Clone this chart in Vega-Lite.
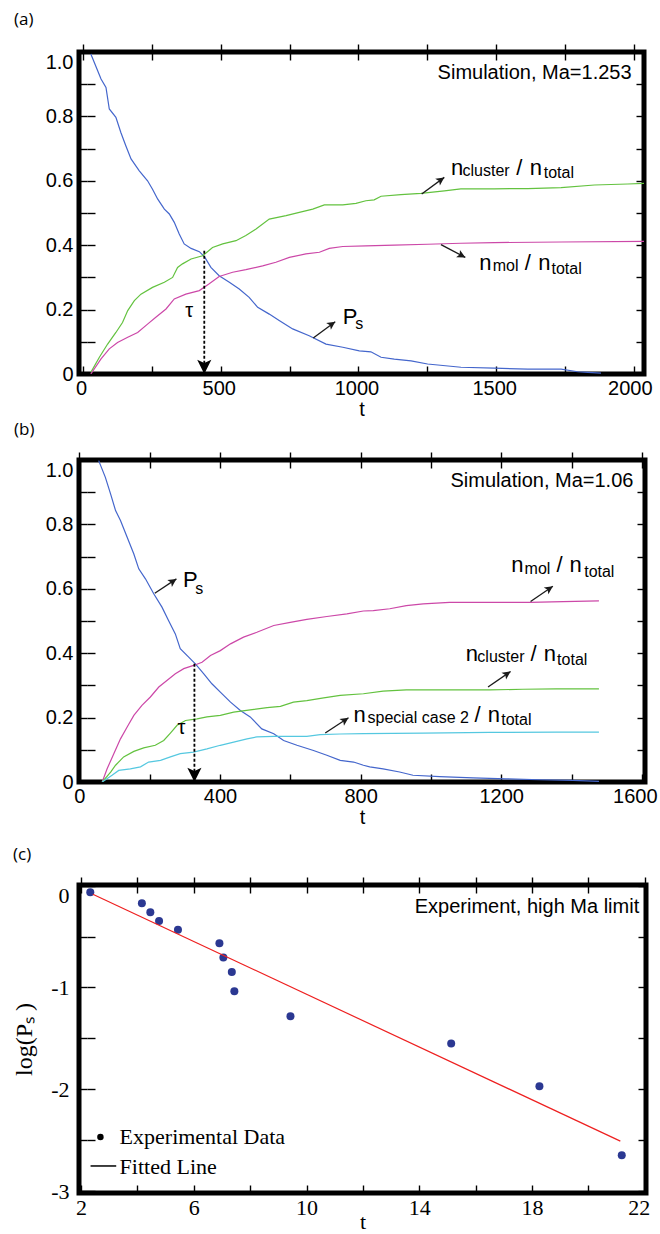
{
"$schema": "https://vega.github.io/schema/vega-lite/v6.json",
"background": "white",
"padding": {"left": 10, "top": 8, "right": 0, "bottom": 0},
"spacing": 2,
"config": {
  "view": {"stroke": "black", "strokeWidth": 5},
  "axis": {"domain": false, "grid": true, "gridColor": "black", "gridWidth": 1.4, "gridDash": [8, 3000], "gridOpacity": 1, "ticks": true, "tickColor": "black", "tickWidth": 1.4, "tickSize": 8, "offset": -8, "labelColor": "black", "titleColor": "black", "labelOverlap": false, "labelFlush": false, "titleFontWeight": "normal", "zindex": 1},
  "title": {"anchor": "start", "frame": "group", "fontWeight": "normal", "color": "black", "font": "Open Sans", "fontSize": 17}
},
"datasets": {
  "a_lines": [
    {"s":"Ps","t":28,"v":0.994},{"s":"Ps","t":65,"v":0.916},{"s":"Ps","t":83,"v":0.89},{"s":"Ps","t":95,"v":0.823},{"s":"Ps","t":119,"v":0.797},{"s":"Ps","t":137,"v":0.75},{"s":"Ps","t":155,"v":0.709},{"s":"Ps","t":174,"v":0.668},{"s":"Ps","t":204,"v":0.631},{"s":"Ps","t":234,"v":0.6},{"s":"Ps","t":252,"v":0.574},{"s":"Ps","t":271,"v":0.543},{"s":"Ps","t":295,"v":0.512},{"s":"Ps","t":313,"v":0.497},{"s":"Ps","t":331,"v":0.471},{"s":"Ps","t":349,"v":0.435},{"s":"Ps","t":367,"v":0.404},{"s":"Ps","t":392,"v":0.39},{"s":"Ps","t":422,"v":0.38},{"s":"Ps","t":440,"v":0.365},{"s":"Ps","t":464,"v":0.331},{"s":"Ps","t":494,"v":0.305},{"s":"Ps","t":531,"v":0.285},{"s":"Ps","t":567,"v":0.264},{"s":"Ps","t":603,"v":0.238},{"s":"Ps","t":634,"v":0.207},{"s":"Ps","t":676,"v":0.186},{"s":"Ps","t":712,"v":0.166},{"s":"Ps","t":761,"v":0.14},{"s":"Ps","t":821,"v":0.119},{"s":"Ps","t":882,"v":0.093},{"s":"Ps","t":943,"v":0.083},{"s":"Ps","t":1003,"v":0.072},{"s":"Ps","t":1045,"v":0.069},{"s":"Ps","t":1082,"v":0.052},{"s":"Ps","t":1130,"v":0.046},{"s":"Ps","t":1191,"v":0.041},{"s":"Ps","t":1251,"v":0.031},{"s":"Ps","t":1372,"v":0.021},{"s":"Ps","t":1493,"v":0.018},{"s":"Ps","t":1615,"v":0.015},{"s":"Ps","t":1736,"v":0.015},{"s":"Ps","t":1796,"v":0.007},{"s":"Ps","t":1833,"v":0.005},{"s":"Ps","t":1881,"v":0.003},
    {"s":"cluster","t":28,"v":0.005},{"s":"cluster","t":59,"v":0.052},{"s":"cluster","t":89,"v":0.093},{"s":"cluster","t":119,"v":0.129},{"s":"cluster","t":143,"v":0.16},{"s":"cluster","t":162,"v":0.197},{"s":"cluster","t":186,"v":0.228},{"s":"cluster","t":210,"v":0.248},{"s":"cluster","t":252,"v":0.269},{"s":"cluster","t":295,"v":0.285},{"s":"cluster","t":325,"v":0.3},{"s":"cluster","t":343,"v":0.331},{"s":"cluster","t":361,"v":0.342},{"s":"cluster","t":392,"v":0.357},{"s":"cluster","t":434,"v":0.367},{"s":"cluster","t":470,"v":0.393},{"s":"cluster","t":507,"v":0.404},{"s":"cluster","t":555,"v":0.414},{"s":"cluster","t":591,"v":0.43},{"s":"cluster","t":628,"v":0.45},{"s":"cluster","t":676,"v":0.481},{"s":"cluster","t":737,"v":0.492},{"s":"cluster","t":785,"v":0.502},{"s":"cluster","t":834,"v":0.512},{"s":"cluster","t":876,"v":0.525},{"s":"cluster","t":943,"v":0.525},{"s":"cluster","t":991,"v":0.53},{"s":"cluster","t":1027,"v":0.538},{"s":"cluster","t":1057,"v":0.541},{"s":"cluster","t":1082,"v":0.552},{"s":"cluster","t":1154,"v":0.557},{"s":"cluster","t":1227,"v":0.561},{"s":"cluster","t":1312,"v":0.569},{"s":"cluster","t":1372,"v":0.575},{"s":"cluster","t":1493,"v":0.575},{"s":"cluster","t":1615,"v":0.576},{"s":"cluster","t":1736,"v":0.579},{"s":"cluster","t":1857,"v":0.587},{"s":"cluster","t":1978,"v":0.59},{"s":"cluster","t":2037,"v":0.592},
    {"s":"mol","t":28,"v":0.0},{"s":"mol","t":65,"v":0.047},{"s":"mol","t":95,"v":0.078},{"s":"mol","t":125,"v":0.098},{"s":"mol","t":162,"v":0.114},{"s":"mol","t":198,"v":0.129},{"s":"mol","t":234,"v":0.155},{"s":"mol","t":264,"v":0.176},{"s":"mol","t":301,"v":0.202},{"s":"mol","t":331,"v":0.233},{"s":"mol","t":373,"v":0.248},{"s":"mol","t":422,"v":0.259},{"s":"mol","t":458,"v":0.28},{"s":"mol","t":494,"v":0.303},{"s":"mol","t":543,"v":0.316},{"s":"mol","t":591,"v":0.324},{"s":"mol","t":652,"v":0.336},{"s":"mol","t":700,"v":0.347},{"s":"mol","t":749,"v":0.362},{"s":"mol","t":809,"v":0.373},{"s":"mol","t":858,"v":0.378},{"s":"mol","t":894,"v":0.39},{"s":"mol","t":943,"v":0.396},{"s":"mol","t":1027,"v":0.398},{"s":"mol","t":1130,"v":0.4},{"s":"mol","t":1251,"v":0.403},{"s":"mol","t":1372,"v":0.406},{"s":"mol","t":1493,"v":0.408},{"s":"mol","t":1736,"v":0.41},{"s":"mol","t":2037,"v":0.412}
  ],
  "a_tau": [{"t":440,"v":0.383,"v2":0}],
  "a_arrows": [{"t":1229.6,"v":0.559,"t2":1311.7,"v2":0.6106},{"t":1299.7,"v":0.4016,"t2":1388,"v2":0.3621},{"t":835.8,"v":0.1118,"t2":915.7,"v2":0.1624}],
  "a_heads_ur": [{"t":1311.7,"v":0.6106},{"t":915.7,"v":0.1624}],
  "a_heads_dr": [{"t":1388,"v":0.3621}],
  "a_big": [{"t":1336,"v":0.619,"text":"n"},{"t":1573,"v":0.619,"text":"/"},{"t":1622,"v":0.619,"text":"n"},{"t":1439,"v":0.323,"text":"n"},{"t":1604,"v":0.323,"text":"/"},{"t":1653,"v":0.323,"text":"n"},{"t":942.6,"v":0.155,"text":"P"}],
  "a_sub": [{"t":1378,"v":0.616,"text":"cluster"},{"t":1673,"v":0.61,"text":"total"},{"t":1487.4,"v":0.321,"text":"mol"},{"t":1701,"v":0.3106,"text":"total"},{"t":988.4,"v":0.14,"text":"s"}],
  "a_note": [{"t":1992,"v":0.916,"text":"Simulation, Ma=1.253"}],
  "a_taulabel": [{"t":385,"v":0.176,"text":"τ"}],
  "b_lines": [
    {"s":"Ps","t":55,"v":0.998},{"s":"Ps","t":74,"v":0.946},{"s":"Ps","t":89,"v":0.894},{"s":"Ps","t":103,"v":0.843},{"s":"Ps","t":117,"v":0.812},{"s":"Ps","t":136,"v":0.76},{"s":"Ps","t":155,"v":0.708},{"s":"Ps","t":169,"v":0.662},{"s":"Ps","t":188,"v":0.631},{"s":"Ps","t":212,"v":0.584},{"s":"Ps","t":235,"v":0.543},{"s":"Ps","t":254,"v":0.501},{"s":"Ps","t":273,"v":0.46},{"s":"Ps","t":287,"v":0.414},{"s":"Ps","t":311,"v":0.388},{"s":"Ps","t":330,"v":0.367},{"s":"Ps","t":354,"v":0.336},{"s":"Ps","t":377,"v":0.305},{"s":"Ps","t":401,"v":0.279},{"s":"Ps","t":430,"v":0.248},{"s":"Ps","t":458,"v":0.222},{"s":"Ps","t":486,"v":0.202},{"s":"Ps","t":519,"v":0.165},{"s":"Ps","t":553,"v":0.15},{"s":"Ps","t":581,"v":0.129},{"s":"Ps","t":619,"v":0.114},{"s":"Ps","t":666,"v":0.098},{"s":"Ps","t":704,"v":0.083},{"s":"Ps","t":742,"v":0.067},{"s":"Ps","t":780,"v":0.062},{"s":"Ps","t":808,"v":0.052},{"s":"Ps","t":826,"v":0.047},{"s":"Ps","t":864,"v":0.041},{"s":"Ps","t":911,"v":0.031},{"s":"Ps","t":949,"v":0.021},{"s":"Ps","t":1025,"v":0.017},{"s":"Ps","t":1120,"v":0.013},{"s":"Ps","t":1214,"v":0.01},{"s":"Ps","t":1309,"v":0.007},{"s":"Ps","t":1404,"v":0.005},{"s":"Ps","t":1478,"v":0.002},
    {"s":"mol","t":65,"v":0.0},{"s":"mol","t":79,"v":0.041},{"s":"mol","t":98,"v":0.088},{"s":"mol","t":117,"v":0.134},{"s":"mol","t":136,"v":0.171},{"s":"mol","t":155,"v":0.207},{"s":"mol","t":178,"v":0.238},{"s":"mol","t":202,"v":0.264},{"s":"mol","t":226,"v":0.295},{"s":"mol","t":249,"v":0.315},{"s":"mol","t":273,"v":0.336},{"s":"mol","t":297,"v":0.352},{"s":"mol","t":325,"v":0.362},{"s":"mol","t":349,"v":0.372},{"s":"mol","t":373,"v":0.393},{"s":"mol","t":401,"v":0.408},{"s":"mol","t":430,"v":0.429},{"s":"mol","t":467,"v":0.45},{"s":"mol","t":505,"v":0.465},{"s":"mol","t":553,"v":0.486},{"s":"mol","t":600,"v":0.496},{"s":"mol","t":647,"v":0.505},{"s":"mol","t":704,"v":0.514},{"s":"mol","t":761,"v":0.522},{"s":"mol","t":808,"v":0.531},{"s":"mol","t":836,"v":0.532},{"s":"mol","t":883,"v":0.538},{"s":"mol","t":930,"v":0.548},{"s":"mol","t":978,"v":0.553},{"s":"mol","t":1053,"v":0.558},{"s":"mol","t":1167,"v":0.558},{"s":"mol","t":1281,"v":0.558},{"s":"mol","t":1376,"v":0.56},{"s":"mol","t":1478,"v":0.5625},
    {"s":"cluster","t":65,"v":0.0},{"s":"cluster","t":89,"v":0.031},{"s":"cluster","t":103,"v":0.052},{"s":"cluster","t":126,"v":0.078},{"s":"cluster","t":155,"v":0.095},{"s":"cluster","t":183,"v":0.106},{"s":"cluster","t":216,"v":0.114},{"s":"cluster","t":240,"v":0.129},{"s":"cluster","t":259,"v":0.152},{"s":"cluster","t":278,"v":0.176},{"s":"cluster","t":302,"v":0.191},{"s":"cluster","t":335,"v":0.196},{"s":"cluster","t":363,"v":0.202},{"s":"cluster","t":401,"v":0.207},{"s":"cluster","t":439,"v":0.217},{"s":"cluster","t":486,"v":0.224},{"s":"cluster","t":534,"v":0.231},{"s":"cluster","t":572,"v":0.235},{"s":"cluster","t":609,"v":0.248},{"s":"cluster","t":647,"v":0.253},{"s":"cluster","t":695,"v":0.261},{"s":"cluster","t":742,"v":0.269},{"s":"cluster","t":808,"v":0.274},{"s":"cluster","t":864,"v":0.282},{"s":"cluster","t":930,"v":0.286},{"s":"cluster","t":1072,"v":0.286},{"s":"cluster","t":1167,"v":0.286},{"s":"cluster","t":1262,"v":0.288},{"s":"cluster","t":1357,"v":0.289},{"s":"cluster","t":1478,"v":0.2895},
    {"s":"special","t":65,"v":0.0},{"s":"special","t":93,"v":0.021},{"s":"special","t":112,"v":0.036},{"s":"special","t":145,"v":0.041},{"s":"special","t":174,"v":0.047},{"s":"special","t":197,"v":0.062},{"s":"special","t":231,"v":0.067},{"s":"special","t":259,"v":0.078},{"s":"special","t":287,"v":0.088},{"s":"special","t":325,"v":0.093},{"s":"special","t":363,"v":0.103},{"s":"special","t":401,"v":0.114},{"s":"special","t":439,"v":0.124},{"s":"special","t":477,"v":0.134},{"s":"special","t":505,"v":0.14},{"s":"special","t":553,"v":0.142},{"s":"special","t":647,"v":0.142},{"s":"special","t":685,"v":0.147},{"s":"special","t":742,"v":0.149},{"s":"special","t":808,"v":0.15},{"s":"special","t":978,"v":0.152},{"s":"special","t":1167,"v":0.154},{"s":"special","t":1357,"v":0.155},{"s":"special","t":1478,"v":0.155}
  ],
  "b_tau": [{"t":327.3,"v":0.367,"v2":0}],
  "b_arrows": [{"t":214.5,"v":0.5864,"t2":276.1,"v2":0.6308},{"t":1283.5,"v":0.5604,"t2":1347,"v2":0.6081},{"t":1162.5,"v":0.2948,"t2":1226.7,"v2":0.3432},{"t":699.4,"v":0.152,"t2":765.6,"v2":0.1995}],
  "b_heads_ur": [{"t":276.1,"v":0.6308},{"t":1347,"v":0.6081},{"t":1226.7,"v":0.3432},{"t":765.6,"v":0.1995}],
  "b_big": [{"t":1228.7,"v":0.6516,"text":"n"},{"t":1357,"v":0.6516,"text":"/"},{"t":1394,"v":0.6516,"text":"n"},{"t":1098.9,"v":0.3773,"text":"n"},{"t":1283,"v":0.3773,"text":"/"},{"t":1321,"v":0.3773,"text":"n"},{"t":779.8,"v":0.186,"text":"n"},{"t":1124,"v":0.186,"text":"/"},{"t":1162,"v":0.186,"text":"n"},{"t":294.9,"v":0.605,"text":"P"}],
  "b_sub": [{"t":1266.5,"v":0.646,"text":"mol"},{"t":1436,"v":0.636,"text":"total"},{"t":1132.1,"v":0.3723,"text":"cluster"},{"t":1359,"v":0.364,"text":"total"},{"t":819.6,"v":0.183,"text":"special case 2"},{"t":1200,"v":0.1756,"text":"total"},{"t":330,"v":0.584,"text":"s"}],
  "b_note": [{"t":1576,"v":0.915,"text":"Simulation, Ma=1.06"}],
  "b_taulabel": [{"t":290.3,"v":0.15,"text":"τ"}],
  "c_points": [{"x":2.33,"y":-0.066},{"x":4.16,"y":-0.174},{"x":4.46,"y":-0.262},{"x":4.77,"y":-0.347},{"x":5.44,"y":-0.435},{"x":6.91,"y":-0.565},{"x":7.05,"y":-0.705},{"x":7.35,"y":-0.849},{"x":7.44,"y":-1.038},{"x":9.43,"y":-1.283},{"x":15.13,"y":-1.55},{"x":18.26,"y":-1.968},{"x":21.18,"y":-2.646}],
  "c_fit": [{"x":2.42,"y":-0.086},{"x":21.13,"y":-2.506}],
  "c_leg_pt": [{"x":2.69,"y":-2.467}],
  "c_leg_line": [{"x":2.34,"y":-2.75},{"x":3.25,"y":-2.75}],
  "c_leg_text": [{"x":3.37,"y":-2.538,"text":"Experimental Data"},{"x":3.37,"y":-2.832,"text":"Fitted Line"}],
  "c_note": [{"x":21.8,"y":-0.272,"text":"Experiment, high Ma limit"}]
},
"vconcat": [
{
"spacing": -4,
"vconcat": [
{
  "title": {"text": "(a)", "dx": -65, "offset": 22},
  "width": 565, "height": 322,
  "resolve": {"axis": {"x": "independent", "y": "independent"}},
  "layer": [
    {"data": {"name": "a_lines"}, "mark": {"type": "line", "strokeWidth": 1.2, "clip": true},
     "encoding": {
       "x": {"field": "t", "type": "quantitative", "scale": {"domain": [-15, 2037]},
             "axis": {"orient": "bottom", "values": [0,250,500,750,1000,1250,1500,1750,2000], "labelExpr": "datum.value % 500 === 0 ? '' + datum.value : ''", "labelOffset": {"condition": {"test": "datum.value >= 2000", "value": -4}, "value": -2}, "labelFont": "Liberation Sans", "labelFontSize": 20, "labelPadding": 4, "title": "t", "titleFont": "Liberation Sans", "titleFontSize": 20, "titlePadding": 1}},
       "y": {"field": "v", "type": "quantitative", "scale": {"domain": [0, 1]},
             "axis": {"orient": "left", "values": [0,0.1,0.2,0.3,0.4,0.5,0.6,0.7,0.8,0.9,1], "labelExpr": "round(datum.value*10) % 2 === 0 ? (datum.value === 0 ? '0' : format(datum.value, '.1f')) : ''", "labelBaseline": {"condition": {"test": "datum.value >= 0.99", "value": "top"}, "value": "middle"}, "labelFont": "Liberation Sans", "labelFontSize": 20, "labelPadding": 6, "title": null}},
       "color": {"field": "s", "type": "nominal", "scale": {"domain": ["Ps","cluster","mol","special"], "range": ["#4466cc","#63c23f","#cc48a8","#55c8e0"]}, "legend": null}
     }},
    {"data": {"name": "a_tau"}, "mark": {"type": "rule", "strokeDash": [3,2], "strokeWidth": 1.8, "color": "black"},
     "encoding": {
       "x": {"field": "t", "type": "quantitative", "scale": {"domain": [-15, 2037]}, "axis": {"orient": "top", "values": [0,250,500,750,1000,1250,1500,1750,2000], "labels": false, "title": null}},
       "y": {"field": "v", "type": "quantitative", "scale": {"domain": [0, 1]}, "axis": {"orient": "right", "values": [0,0.1,0.2,0.3,0.4,0.5,0.6,0.7,0.8,0.9,1], "labels": false, "title": null}},
       "y2": {"field": "v2"}
     }},
    {"data": {"name": "a_arrows"}, "mark": {"type": "rule", "strokeWidth": 1.3, "color": "#1a1a1a"},
     "encoding": {
       "x": {"field": "t", "type": "quantitative", "scale": {"domain": [-15, 2037]}, "axis": null},
       "y": {"field": "v", "type": "quantitative", "scale": {"domain": [0, 1]}, "axis": null},
       "x2": {"field": "t2"}, "y2": {"field": "v2"}
     }},
    {"data": {"name": "a_heads_ur"}, "mark": {"type": "point", "shape": "M0,0L-1.1,2.2L0,1.7L1.1,2.2Z", "filled": true, "color": "#1a1a1a", "opacity": 1, "size": 56, "angle": 55},
     "encoding": {
       "x": {"field": "t", "type": "quantitative", "scale": {"domain": [-15, 2037]}, "axis": null},
       "y": {"field": "v", "type": "quantitative", "scale": {"domain": [0, 1]}, "axis": null}
     }},
    {"data": {"name": "a_heads_dr"}, "mark": {"type": "point", "shape": "M0,0L-1.1,2.2L0,1.7L1.1,2.2Z", "filled": true, "color": "#1a1a1a", "opacity": 1, "size": 56, "angle": 118},
     "encoding": {
       "x": {"field": "t", "type": "quantitative", "scale": {"domain": [-15, 2037]}, "axis": null},
       "y": {"field": "v", "type": "quantitative", "scale": {"domain": [0, 1]}, "axis": null}
     }},
    {"data": {"name": "a_tau"}, "mark": {"type": "point", "shape": "M0,0L-1.1,2.2L0,1.7L1.1,2.2Z", "filled": true, "color": "black", "opacity": 1, "size": 165, "angle": 180},
     "encoding": {
       "x": {"field": "t", "type": "quantitative", "scale": {"domain": [-15, 2037]}, "axis": null},
       "y": {"field": "v2", "type": "quantitative", "scale": {"domain": [0, 1]}, "axis": null}
     }},
    {"data": {"name": "a_big"}, "mark": {"type": "text", "align": "left", "baseline": "alphabetic", "font": "Liberation Sans", "fontSize": 22, "color": "black"},
     "encoding": {
       "x": {"field": "t", "type": "quantitative", "scale": {"domain": [-15, 2037]}, "axis": null},
       "y": {"field": "v", "type": "quantitative", "scale": {"domain": [0, 1]}, "axis": null},
       "text": {"field": "text"}
     }},
    {"data": {"name": "a_sub"}, "mark": {"type": "text", "align": "left", "baseline": "alphabetic", "font": "Liberation Sans", "fontSize": 16, "color": "black"},
     "encoding": {
       "x": {"field": "t", "type": "quantitative", "scale": {"domain": [-15, 2037]}, "axis": null},
       "y": {"field": "v", "type": "quantitative", "scale": {"domain": [0, 1]}, "axis": null},
       "text": {"field": "text"}
     }},
    {"data": {"name": "a_note"}, "mark": {"type": "text", "align": "right", "baseline": "alphabetic", "font": "Liberation Sans", "fontSize": 20, "color": "black"},
     "encoding": {
       "x": {"field": "t", "type": "quantitative", "scale": {"domain": [-15, 2037]}, "axis": null},
       "y": {"field": "v", "type": "quantitative", "scale": {"domain": [0, 1]}, "axis": null},
       "text": {"field": "text"}
     }},
    {"data": {"name": "a_taulabel"}, "mark": {"type": "text", "align": "center", "baseline": "alphabetic", "font": "Liberation Sans", "fontSize": 20, "color": "black"},
     "encoding": {
       "x": {"field": "t", "type": "quantitative", "scale": {"domain": [-15, 2037]}, "axis": null},
       "y": {"field": "v", "type": "quantitative", "scale": {"domain": [0, 1]}, "axis": null},
       "text": {"field": "text"}
     }}
  ]
},
{
  "title": {"text": "(b)", "dx": -65, "offset": 20},
  "width": 566, "height": 322,
  "resolve": {"axis": {"x": "independent", "y": "independent"}},
  "layer": [
    {"data": {"name": "b_lines"}, "mark": {"type": "line", "strokeWidth": 1.2, "clip": true},
     "encoding": {
       "x": {"field": "t", "type": "quantitative", "scale": {"domain": [-1, 1609]},
             "axis": {"orient": "bottom", "values": [0,200,400,600,800,1000,1200,1400,1600], "labelExpr": "datum.value % 400 === 0 ? '' + datum.value : ''", "labelOffset": {"condition": {"test": "datum.value >= 1600", "value": -7}, "value": 0}, "labelFont": "Liberation Sans", "labelFontSize": 20, "labelPadding": 4, "title": "t", "titleFont": "Liberation Sans", "titleFontSize": 20, "titlePadding": 1}},
       "y": {"field": "v", "type": "quantitative", "scale": {"domain": [0, 1]},
             "axis": {"orient": "left", "values": [0,0.1,0.2,0.3,0.4,0.5,0.6,0.7,0.8,0.9,1], "labelExpr": "round(datum.value*10) % 2 === 0 ? (datum.value === 0 ? '0' : format(datum.value, '.1f')) : ''", "labelBaseline": {"condition": {"test": "datum.value >= 0.99", "value": "top"}, "value": "middle"}, "labelFont": "Liberation Sans", "labelFontSize": 20, "labelPadding": 6, "title": null}},
       "color": {"field": "s", "type": "nominal", "scale": {"domain": ["Ps","cluster","mol","special"], "range": ["#4466cc","#63c23f","#cc48a8","#55c8e0"]}, "legend": null}
     }},
    {"data": {"name": "b_tau"}, "mark": {"type": "rule", "strokeDash": [3,2], "strokeWidth": 1.8, "color": "black"},
     "encoding": {
       "x": {"field": "t", "type": "quantitative", "scale": {"domain": [-1, 1609]}, "axis": {"orient": "top", "values": [0,200,400,600,800,1000,1200,1400,1600], "labels": false, "title": null}},
       "y": {"field": "v", "type": "quantitative", "scale": {"domain": [0, 1]}, "axis": {"orient": "right", "values": [0,0.1,0.2,0.3,0.4,0.5,0.6,0.7,0.8,0.9,1], "labels": false, "title": null}},
       "y2": {"field": "v2"}
     }},
    {"data": {"name": "b_arrows"}, "mark": {"type": "rule", "strokeWidth": 1.3, "color": "#1a1a1a"},
     "encoding": {
       "x": {"field": "t", "type": "quantitative", "scale": {"domain": [-1, 1609]}, "axis": null},
       "y": {"field": "v", "type": "quantitative", "scale": {"domain": [0, 1]}, "axis": null},
       "x2": {"field": "t2"}, "y2": {"field": "v2"}
     }},
    {"data": {"name": "b_heads_ur"}, "mark": {"type": "point", "shape": "M0,0L-1.1,2.2L0,1.7L1.1,2.2Z", "filled": true, "color": "#1a1a1a", "opacity": 1, "size": 56, "angle": 56},
     "encoding": {
       "x": {"field": "t", "type": "quantitative", "scale": {"domain": [-1, 1609]}, "axis": null},
       "y": {"field": "v", "type": "quantitative", "scale": {"domain": [0, 1]}, "axis": null}
     }},
    {"data": {"name": "b_tau"}, "mark": {"type": "point", "shape": "M0,0L-1.1,2.2L0,1.7L1.1,2.2Z", "filled": true, "color": "black", "opacity": 1, "size": 165, "angle": 180},
     "encoding": {
       "x": {"field": "t", "type": "quantitative", "scale": {"domain": [-1, 1609]}, "axis": null},
       "y": {"field": "v2", "type": "quantitative", "scale": {"domain": [0, 1]}, "axis": null}
     }},
    {"data": {"name": "b_big"}, "mark": {"type": "text", "align": "left", "baseline": "alphabetic", "font": "Liberation Sans", "fontSize": 22, "color": "black"},
     "encoding": {
       "x": {"field": "t", "type": "quantitative", "scale": {"domain": [-1, 1609]}, "axis": null},
       "y": {"field": "v", "type": "quantitative", "scale": {"domain": [0, 1]}, "axis": null},
       "text": {"field": "text"}
     }},
    {"data": {"name": "b_sub"}, "mark": {"type": "text", "align": "left", "baseline": "alphabetic", "font": "Liberation Sans", "fontSize": 16, "color": "black"},
     "encoding": {
       "x": {"field": "t", "type": "quantitative", "scale": {"domain": [-1, 1609]}, "axis": null},
       "y": {"field": "v", "type": "quantitative", "scale": {"domain": [0, 1]}, "axis": null},
       "text": {"field": "text"}
     }},
    {"data": {"name": "b_note"}, "mark": {"type": "text", "align": "right", "baseline": "alphabetic", "font": "Liberation Sans", "fontSize": 20, "color": "black"},
     "encoding": {
       "x": {"field": "t", "type": "quantitative", "scale": {"domain": [-1, 1609]}, "axis": null},
       "y": {"field": "v", "type": "quantitative", "scale": {"domain": [0, 1]}, "axis": null},
       "text": {"field": "text"}
     }},
    {"data": {"name": "b_taulabel"}, "mark": {"type": "text", "align": "center", "baseline": "alphabetic", "font": "Liberation Sans", "fontSize": 20, "color": "black"},
     "encoding": {
       "x": {"field": "t", "type": "quantitative", "scale": {"domain": [-1, 1609]}, "axis": null},
       "y": {"field": "v", "type": "quantitative", "scale": {"domain": [0, 1]}, "axis": null},
       "text": {"field": "text"}
     }}
  ]
}
]
},
{
  "title": {"text": ["", "(c)"], "lineHeight": 11, "dx": -66, "offset": 20},
  "width": 567, "height": 308,
  "resolve": {"axis": {"x": "independent", "y": "independent"}},
  "layer": [
    {"data": {"name": "c_points"}, "mark": {"type": "point", "filled": true, "color": "#2b3892", "opacity": 1, "size": 64},
     "encoding": {
       "x": {"field": "x", "type": "quantitative", "scale": {"domain": [1.93, 22.04]},
             "axis": {"orient": "bottom", "values": [2,4,6,8,10,12,14,16,18,20,22], "labelExpr": "(datum.value - 2) % 4 === 0 ? '' + datum.value : ''", "labelOffset": {"condition": {"test": "datum.value >= 22", "value": -6}, "value": 0}, "labelFont": "Liberation Serif", "labelFontSize": 22, "labelPadding": 4, "title": "t", "titleFont": "Liberation Serif", "titleFontSize": 22, "titlePadding": -7}},
       "y": {"field": "y", "type": "quantitative", "scale": {"domain": [-3.015, 0.005]},
             "axis": {"orient": "left", "values": [-3,-2.5,-2,-1.5,-1,-0.5,0], "labelExpr": "datum.value % 1 === 0 ? (datum.value === 0 ? '0' : '-' + abs(datum.value)) : ''", "labelBaseline": {"condition": {"test": "datum.value >= 0", "value": "top"}, "value": "middle"}, "labelFont": "Liberation Serif", "labelFontSize": 22, "labelPadding": 10, "title": "log(Pₛ )", "titleFont": "Liberation Serif", "titleFontSize": 24, "titlePadding": 14}}
     }},
    {"data": {"name": "c_fit"}, "mark": {"type": "line", "strokeWidth": 1.2, "color": "#ee2020"},
     "encoding": {
       "x": {"field": "x", "type": "quantitative", "scale": {"domain": [1.93, 22.04]}, "axis": {"orient": "top", "values": [2,4,6,8,10,12,14,16,18,20,22], "labels": false, "title": null}},
       "y": {"field": "y", "type": "quantitative", "scale": {"domain": [-3.015, 0.005]}, "axis": {"orient": "right", "values": [-3,-2.5,-2,-1.5,-1,-0.5,0], "labels": false, "title": null}}
     }},
    {"data": {"name": "c_leg_pt"}, "mark": {"type": "point", "filled": true, "color": "black", "opacity": 1, "size": 42},
     "encoding": {
       "x": {"field": "x", "type": "quantitative", "scale": {"domain": [1.93, 22.04]}, "axis": null},
       "y": {"field": "y", "type": "quantitative", "scale": {"domain": [-3.015, 0.005]}, "axis": null}
     }},
    {"data": {"name": "c_leg_line"}, "mark": {"type": "line", "strokeWidth": 1.5, "color": "black"},
     "encoding": {
       "x": {"field": "x", "type": "quantitative", "scale": {"domain": [1.93, 22.04]}, "axis": null},
       "y": {"field": "y", "type": "quantitative", "scale": {"domain": [-3.015, 0.005]}, "axis": null}
     }},
    {"data": {"name": "c_leg_text"}, "mark": {"type": "text", "align": "left", "baseline": "alphabetic", "font": "Liberation Serif", "fontSize": 22, "color": "black"},
     "encoding": {
       "x": {"field": "x", "type": "quantitative", "scale": {"domain": [1.93, 22.04]}, "axis": null},
       "y": {"field": "y", "type": "quantitative", "scale": {"domain": [-3.015, 0.005]}, "axis": null},
       "text": {"field": "text"}
     }},
    {"data": {"name": "c_note"}, "mark": {"type": "text", "align": "right", "baseline": "alphabetic", "font": "Liberation Sans", "fontSize": 20, "color": "black"},
     "encoding": {
       "x": {"field": "x", "type": "quantitative", "scale": {"domain": [1.93, 22.04]}, "axis": null},
       "y": {"field": "y", "type": "quantitative", "scale": {"domain": [-3.015, 0.005]}, "axis": null},
       "text": {"field": "text"}
     }}
  ]
}
]
}
